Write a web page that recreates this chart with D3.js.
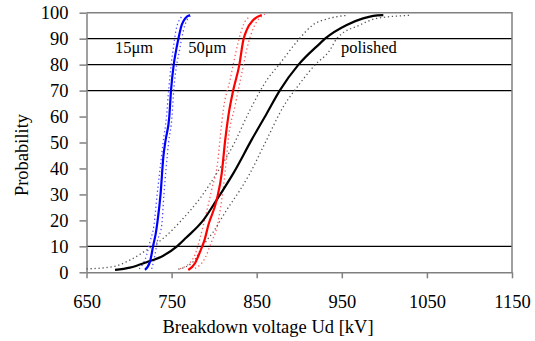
<!DOCTYPE html>
<html>
<head>
<meta charset="utf-8">
<script src="https://cdn.jsdelivr.net/npm/d3@7"></script>
<style>
  html, body { margin: 0; padding: 0; background: #fff; }
  svg { display: block; }
  text { font-family: "Liberation Serif", "Times New Roman", serif; fill: #000; }
</style>
</head>
<body>
<svg id="chart" width="535" height="341"></svg>
<script>
// ---- data: [voltage kV, probability %] ----
const xTicks = [650, 750, 850, 950, 1050, 1150];
const yTicks = [0, 10, 20, 30, 40, 50, 60, 70, 80, 90, 100];
const gridValues = [10, 70, 80, 90];

const blueMain = [[718.7,0.9],[724.6,4.1],[728.5,10.5],[731.7,15.6],[733.6,20],[737,30],[740.3,44.5],[743,51],[747.3,60],[749.3,70],[752.5,80],[755,85],[758,90],[761.9,95.3],[766,97.8],[771.6,99.1]];
const blueLow  = [[712,1.3],[720.7,6.7],[724.6,11.8],[729.3,18.2],[733,30],[736.5,40],[740,50],[744,60],[746.5,70],[749.5,80],[752,86.3],[755.2,93.3],[761.9,98.5]];
const blueHigh = [[726.6,1.3],[730.5,6.7],[733.2,11.8],[738.4,18.2],[741,30],[743.5,40],[746.5,50],[750.5,60],[752.5,70],[756,80],[759,85],[761.9,90.1],[765.7,95.3],[773.6,99.1]];

const redMain = [[769.6,0.9],[777.5,3.5],[783.4,7.9],[789,12.8],[793.2,18.2],[803,27.9],[808.9,38.1],[813,51],[816.6,60],[822.5,70.2],[829.6,79.9],[834.3,89.5],[838.2,93.3],[846,97.2],[855.9,99.1]];
const redLow  = [[760,1.3],[775.5,5.4],[783.4,13.1],[787.3,18.2],[797,31.7],[804.9,44.5],[806.8,51],[810.8,62.6],[818.6,74],[825.7,85],[828.4,88.8],[834.3,95.3],[842,98.5]];
const redHigh = [[777.5,1.5],[789.2,5.4],[797,11.8],[803,17],[808.9,27.9],[814.7,44.5],[816.6,51],[824.5,64],[832.4,76.6],[840.1,88.2],[846,94],[850,96.5],[859.7,99.4]];

const blackMain = [[683.5,0.9],[701,1.8],[720.7,3.9],[740.2,6.4],[756,9.9],[767,13.3],[787.3,20.1],[803,27.9],[822.5,38.1],[844,51],[861.8,61.2],[877.4,70.2],[898.9,79.9],[924.4,88.2],[930.3,90],[955.8,95.3],[975,97.8],[987,98.8],[998.8,99.1]];
const blackLow  = [[650,1.3],[681.5,2.2],[701,4.7],[720.7,8.6],[740.2,13.1],[763.7,20.8],[783.4,28.5],[803,38.1],[822.5,49],[842.1,62.5],[861.8,74],[877.4,80.5],[898.9,89.5],[916,95.3],[935,97.8],[957,99]];
const blackHigh = [[757.9,1.2],[775.5,4.1],[787.3,10.5],[799,15.6],[814.7,24],[830.4,31.7],[842,38.1],[859.7,49.7],[881.3,63.8],[900.9,72.8],[918.5,79.9],[936.1,85.6],[944,90],[971.4,95.3],[991,97.8],[1032,99]];

const labelTexts = ["15\u03bcm", "50\u03bcm", "polished"];
const labelVolts = [683.5, 769.5, 949];
const labelProbs = [84.5, 84.5, 84.5];

const xTitle = "Breakdown voltage Ud [kV]";
const yTitle = "Probability";

// ---- chart ----
const svg = d3.select("#chart");
const L = 86.5, R = 512, T = 12.7, B = 272.3;
const x = d3.scaleLinear().domain([650, 1150]).range([L, R]);
const y = d3.scaleLinear().domain([0, 100]).range([B, T]);
const axisColor = "#808080";

// gridlines
svg.append("g").selectAll("line").data(gridValues).join("line")
  .attr("x1", L).attr("x2", R)
  .attr("y1", d => y(d)).attr("y2", d => y(d))
  .attr("stroke", "#000").attr("stroke-width", 1.2);

// top and right border
svg.append("path")
  .attr("d", `M${L},${y(100)}H${x(1150)}V${y(0)}`)
  .attr("fill", "none").attr("stroke", axisColor).attr("stroke-width", 1.5);

// axes
const fontSize = "18.5px";
const gx = svg.append("g").attr("transform", `translate(0,${B})`)
  .call(d3.axisBottom(x).tickValues(xTicks).tickSize(6).tickSizeOuter(0).tickPadding(16.5).tickFormat(d3.format("d")));
const gy = svg.append("g").attr("transform", `translate(${L},0)`)
  .call(d3.axisLeft(y).tickValues(yTicks).tickSize(7).tickSizeOuter(0).tickPadding(11).tickFormat(d3.format("d")));
[gx, gy].forEach(g => {
  g.selectAll("path.domain").attr("stroke", axisColor).attr("stroke-width", 1.5);
  g.selectAll(".tick line").attr("stroke", axisColor).attr("stroke-width", 1.5);
  g.selectAll(".tick text").attr("fill", "#000")
    .style("font-family", '"Liberation Serif", "Times New Roman", serif')
    .style("font-size", fontSize);
});

// curves
const line = d3.line().x(d => x(d[0])).y(d => y(d[1])).curve(d3.curveMonotoneX);

function dotted(data, color) {
  svg.append("path").datum(data).attr("d", line)
    .attr("fill", "none").attr("stroke", color).attr("stroke-width", 1.3)
    .attr("stroke-dasharray", "1.3,2.7");
}
function solid(data, color) {
  svg.append("path").datum(data).attr("d", line)
    .attr("fill", "none").attr("stroke", color).attr("stroke-width", 2.2);
}

dotted(blackLow, "#555");
dotted(blackHigh, "#555");
dotted(blueLow, "#4d4dff");
dotted(blueHigh, "#4d4dff");
dotted(redLow, "#ff5a5a");
dotted(redHigh, "#ff5a5a");
solid(blackMain, "#000");
solid(redMain, "#ff0000");
solid(blueMain, "#0000ff");

// series labels
svg.append("g").selectAll("text").data(labelTexts).join("text")
  .attr("x", (d, i) => x(labelVolts[i])).attr("y", (d, i) => y(labelProbs[i]))
  .style("font-size", "16.5px")
  .text(d => d);

// axis titles
svg.append("text")
  .attr("x", 268).attr("y", 333)
  .attr("text-anchor", "middle")
  .style("font-size", fontSize)
  .text(xTitle);
svg.append("text")
  .attr("transform", "translate(28,155) rotate(-90)")
  .attr("text-anchor", "middle")
  .style("font-size", fontSize)
  .text(yTitle);
</script>
</body>
</html>
